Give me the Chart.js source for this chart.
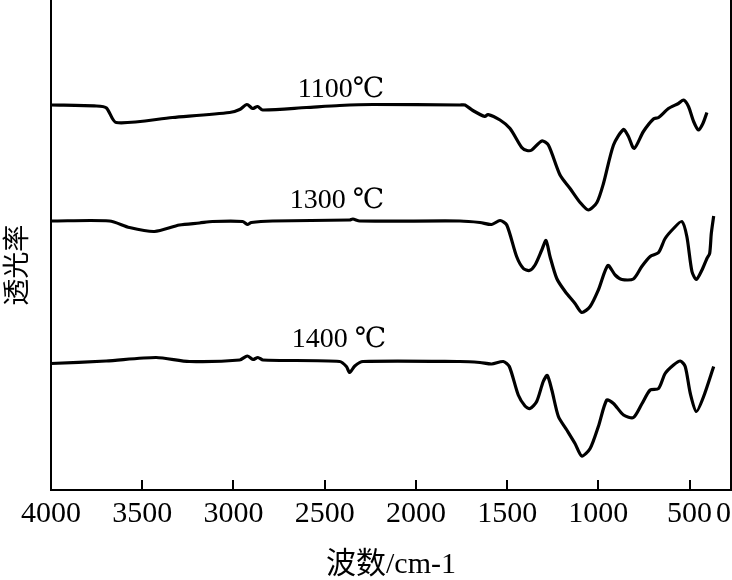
<!DOCTYPE html>
<html>
<head>
<meta charset="utf-8">
<script src="https://cdn.jsdelivr.net/npm/chart.js@4.4.1/dist/chart.umd.min.js"></script>
<style>
html,body{margin:0;padding:0;background:#fff;}
#wrap{width:732px;height:580px;position:relative;}
</style>
</head>
<body>
<div id="wrap"><canvas id="c"></canvas></div>
<script>
// ---- data (wavenumber in cm-1, transmittance in arbitrary units, curves offset) ----
const wn1100 = [4000,3751,3696,3643,3334,3021,2966,2926,2895,2868,2840,2600,2418,2236,1759,1731,1688,1622,1605,1539,1484,1420,1391,1365,1310,1274,1210,1155,1100,1055,1008,972,917,862,835,804,753,698,670,616,561,533,506,478,451,427,405];
const t1100  = [77.0,76.8,76.4,73.5,74.5,75.5,76.1,77.1,76.3,76.7,76.0,76.5,76.9,77.1,77.0,77.0,75.9,74.7,75.1,74.0,72.3,68.5,67.9,68.0,69.8,69.0,63.0,60.3,57.5,56.0,57.5,61.3,69.0,72.1,70.7,68.3,71.7,74.2,74.5,76.3,77.3,78.0,76.7,73.7,72.0,73.3,75.5];

const wn1300 = [4000,3680,3570,3433,3296,3186,3115,2950,2924,2902,2785,2363,2346,2308,1759,1649,1585,1539,1502,1448,1411,1378,1347,1310,1287,1265,1228,1182,1128,1091,1045,1000,948,908,871,808,762,716,670,634,588,542,515,487,463,432,405,390,381,368];
const t1300  = [53.8,53.8,52.5,51.7,53.0,53.4,53.7,53.7,53.1,53.5,53.8,54.0,54.2,53.8,53.8,53.5,53.1,53.9,53.0,46.7,44.3,43.9,45.0,48.0,49.9,46.7,42.3,39.7,37.3,35.5,36.7,40.0,44.9,43.0,42.1,42.2,44.7,46.7,47.5,50.3,52.3,53.7,50.7,43.7,42.1,44.0,46.3,47.3,51.3,54.8];

const wn1400 = [4000,3698,3424,3241,2966,2924,2893,2866,2838,2418,2381,2363,2335,2290,1759,1649,1585,1521,1488,1439,1402,1375,1338,1302,1280,1255,1219,1173,1128,1091,1045,1000,954,917,862,808,762,716,670,634,588,551,524,496,463,423,368];
const t1400  = [25.3,25.8,26.5,25.7,26.0,26.8,26.1,26.5,26.0,25.7,24.7,23.5,24.8,25.7,25.7,25.5,25.2,25.7,24.7,19.0,16.8,16.3,17.7,21.7,22.9,20.0,14.7,12.0,9.3,6.8,8.3,12.7,18.0,17.3,15.0,14.5,17.2,20.0,20.3,23.3,25.0,25.8,24.7,19.3,15.7,18.7,24.7];

const xTickValues = [4000,3500,3000,2500,2000,1500,1000,500,273];
const xTickLabels = ['4000','3500','3000','2500','2000','1500','1000','500','0'];
const X_MIN = 273, X_MAX = 4000, Y_MIN = 0, Y_MAX = 98;

const curveLabels = ['1100℃','1300 ℃','1400 ℃'];
const curveLabelWn = [2648,2692,2681];
const curveLabelT  = [78.6,56.4,28.6];

const xTitle = '波数/cm-1';
const yTitle = '透光率';

function toPts(wn, t){ return wn.map((w,i)=>({x:w, y:t[i]})); }

const serif = '"Liberation Serif","DejaVu Serif","Noto Sans CJK SC",serif';

const overlay = {
  id:'overlay',
  afterDraw(chart){
    const {ctx, chartArea:{top,bottom,right}, scales:{x,y}} = chart;
    ctx.save();
    ctx.strokeStyle = '#000';
    ctx.lineWidth = 2;
    x.ticks.forEach(t=>{
      if (t.value === X_MIN || t.value === X_MAX) return;
      const px = Math.round(x.getPixelForValue(t.value));
      ctx.beginPath(); ctx.moveTo(px, bottom); ctx.lineTo(px, bottom-10); ctx.stroke();
    });
    ctx.beginPath(); ctx.moveTo(right, top); ctx.lineTo(right, bottom); ctx.stroke();
    ctx.fillStyle = '#000';
    ctx.font = '28px ' + serif;
    ctx.textAlign = 'left';
    ctx.textBaseline = 'alphabetic';
    curveLabels.forEach((s,i)=>{
      ctx.fillText(s, x.getPixelForValue(curveLabelWn[i]), y.getPixelForValue(curveLabelT[i]));
    });
    ctx.restore();
  }
};

const ds = (wn,t)=>({data:toPts(wn,t), borderColor:'#000', borderWidth:3.2, pointRadius:0, tension:0.25, fill:false});

new Chart(document.getElementById('c'), {
  type:'line',
  data:{datasets:[ds(wn1100,t1100), ds(wn1300,t1300), ds(wn1400,t1400)]},
  options:{
    responsive:true, maintainAspectRatio:false, animation:false,
    layout:{padding:{left:0,top:0,right:1,bottom:0}},
    plugins:{legend:{display:false}, tooltip:{enabled:false}},
    scales:{
      x:{
        type:'linear', reverse:true, min:X_MIN, max:X_MAX,
        afterBuildTicks:s=>{ s.ticks = xTickValues.map(v=>({value:v})); },
        afterFit:s=>{ s.height = 90; s.paddingRight = 0; },
        grid:{display:false, drawTicks:false},
        border:{display:true, color:'#000', width:2},
        ticks:{autoSkip:false, maxRotation:0, minRotation:0, padding:6, color:'#000',
               font:{family:serif, size:30},
               callback:(v,i)=> i === xTickLabels.length-1 ? xTickLabels[i] + '\u2002' : xTickLabels[i]},
        title:{display:true, text:xTitle, color:'#000', padding:{top:0,bottom:-3},
               font:{family:serif, size:30}}
      },
      y:{
        min:Y_MIN, max:Y_MAX,
        afterFit:s=>{ s.width = 51; },
        grid:{display:false, drawTicks:false},
        border:{display:true, color:'#000', width:2},
        ticks:{display:false},
        title:{display:true, text:yTitle + '\u3000\u2002', color:'#000', padding:{top:0,bottom:0},
               font:{family:'"Noto Sans CJK SC",serif', size:27}}
      }
    }
  },
  plugins:[overlay]
});
</script>
</body>
</html>
